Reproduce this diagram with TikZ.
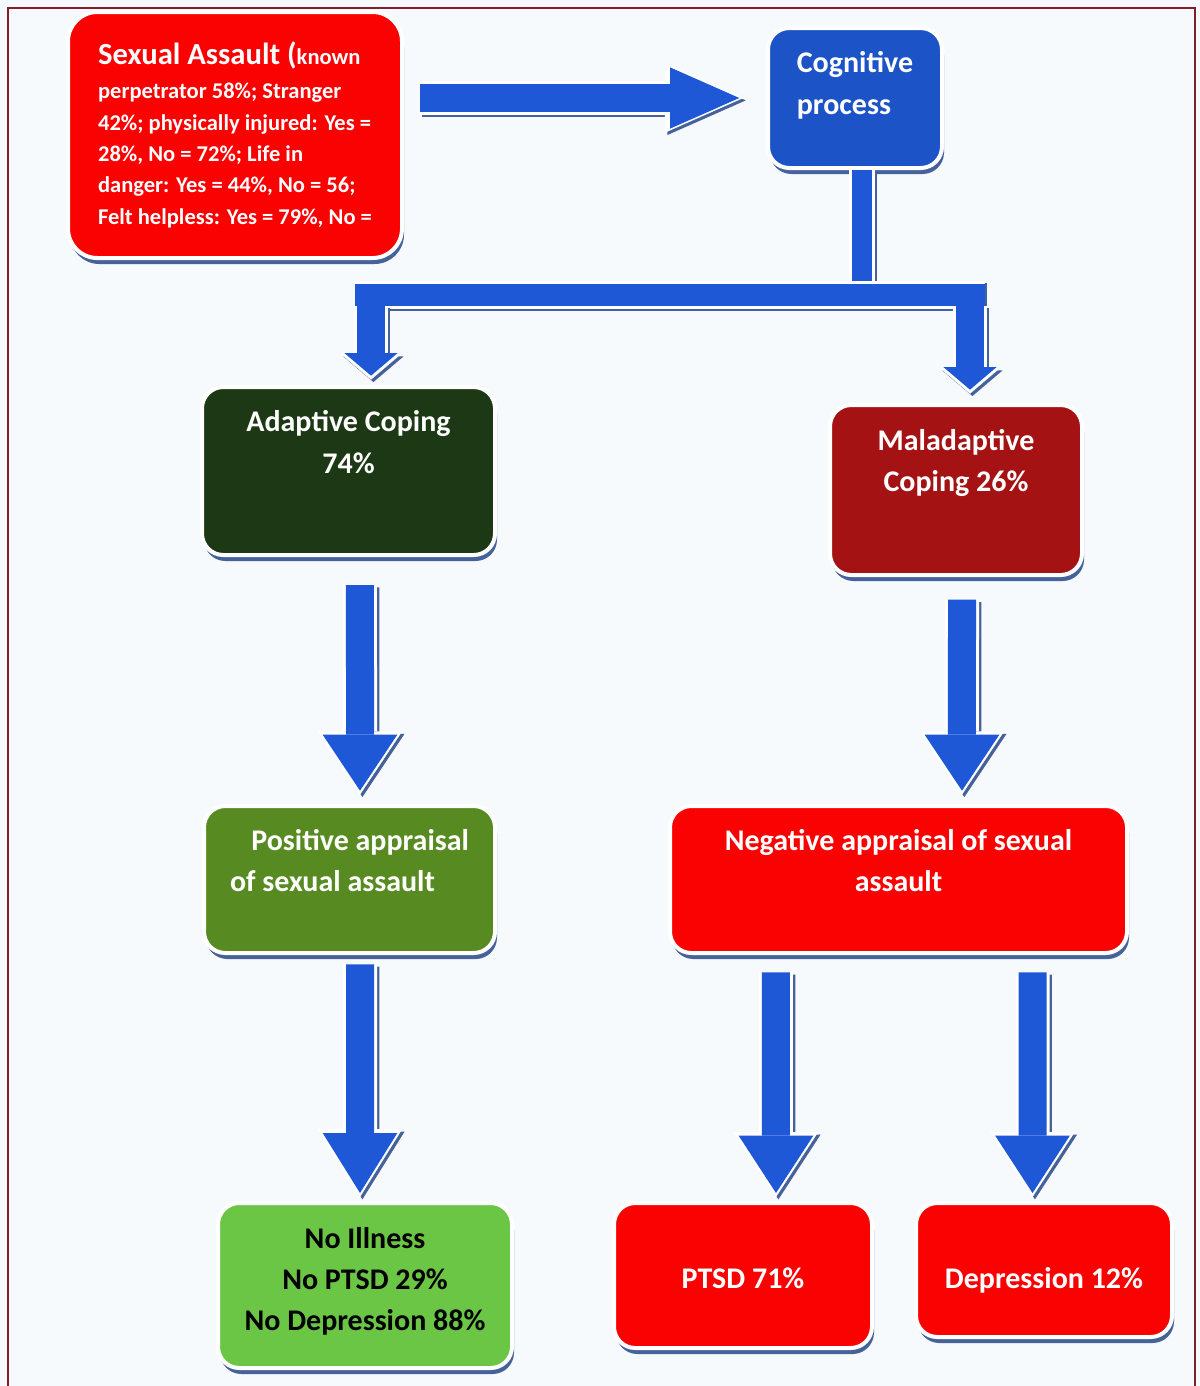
\documentclass[tikz,border=0pt]{standalone}
\usepackage{fontspec}
\setmainfont{Carlito}
\usetikzlibrary{arrows.meta,shadows}

\definecolor{flowred}{RGB}{250,2,2}
\definecolor{flowblue}{RGB}{30,88,214}
\definecolor{cogblue}{RGB}{28,84,200}
\definecolor{darkleaf}{RGB}{28,56,20}
\definecolor{darkred}{RGB}{165,18,20}
\definecolor{olive}{RGB}{88,138,34}
\definecolor{lightleaf}{RGB}{108,198,70}
\definecolor{shade}{RGB}{70,98,155}
\definecolor{framered}{RGB}{130,30,42}
\definecolor{paper}{RGB}{247,250,253}

% extra depth under the last line, pushes the text up in its box
\newcommand{\lift}[1]{\rule[-#1]{0pt}{#1}}

% block arrow: tip, from, to, start gap, end gap
\newcommand{\flowarrow}[5]{%
  \draw[arrshade={#1},shorten <=#4,shorten >=#5-3pt] #2 -- #3;
  \draw[arrhalo={#1},shorten <=#4,shorten >=#5-3pt] #2 -- #3;
  \draw[arrbody={#1},shorten <=#4,shorten >=#5] #2 -- #3;
}
% block bar without tip: width, from, to
\newcommand{\flowbar}[3]{%
  \draw[draw=shade,line width=#1+4.5pt,transform canvas={xshift=1.8pt,yshift=-1.8pt}] #2 -- #3;
  \draw[draw=white,line width=#1+4.5pt] #2 -- #3;
  \draw[draw=flowblue,line width=#1] #2 -- #3;
}

\tikzset{every picture/.style={line width=0.75pt}}
\tikzset{
  flowbox/.style={rounded corners=16pt, draw=white, line width=3pt, inner sep=0pt, text=white,
    font=\bfseries\fontsize{22.5}{31}\selectfont,
    general shadow={fill=shade, shadow xshift=1.5pt, shadow yshift=-4.5pt}},
  arrbody/.style={draw=flowblue, line width=21pt, -{Triangle[#1,line width=0pt]}},
  arrhalo/.style={draw=white, line width=25.5pt, -{Triangle[#1,scale=1.13,line width=0pt]}},
  arrshade/.style={draw=shade, line width=25.5pt, -{Triangle[#1,scale=1.13,line width=0pt]},
    transform canvas={xshift=1.8pt,yshift=-1.8pt}},
}

\begin{document}
\begin{tikzpicture}[x=0.75pt,y=0.75pt,yscale=-1,xscale=1]
\useasboundingbox (0,0) rectangle (1200,1386);
\fill[paper] (0,0) rectangle (1200,1386);

%Frame
\draw[framered, line width=1.5pt] (8,1395) -- (8,8) -- (1195,8) -- (1195,1395);

%Shape: Rounded Rect [sexual assault]
\node[flowbox, fill=flowred, rounded corners=22pt, align=left, font=\bfseries\fontsize{16.9}{23.5}\selectfont,
  minimum width=250.5pt, minimum height=184.5pt] (assault) at (235,135)
  {{\fontsize{23}{26}\selectfont Sexual Assault (}known\\[2pt]
   perpetrator 58\%; Stranger\\
   42\%; physically injured: Yes =\\
   28\%, No = 72\%; Life in\\
   danger: Yes = 44\%, No = 56;\\
   Felt helpless: Yes = 79\%, No =};
%Shape: Rounded Rect [cognitive]
\node[flowbox, fill=cogblue, align=left, minimum width=130.5pt, minimum height=105pt] (cog) at (855,98)
  {Cognitive\\process\lift{22.5pt}};
%Shape: Rounded Rect [adaptive]
\node[flowbox, fill=darkleaf, align=center, minimum width=219.75pt, minimum height=126pt] (adapt) at (348.5,471)
  {Adaptive Coping\\74\%\lift{43.5pt}};
%Shape: Rounded Rect [maladaptive]
\node[flowbox, fill=darkred, align=center, minimum width=189pt, minimum height=127.5pt] (malad) at (956,490)
  {Maladaptive\\Coping 26\%\lift{44pt}};
%Shape: Rounded Rect [positive]
\node[flowbox, fill=olive, align=left, minimum width=218.25pt, minimum height=110.25pt] (pos) at (349.5,879.5)
  {\hspace*{16pt}Positive appraisal\\of sexual assault\lift{28.5pt}};
%Shape: Rounded Rect [negative]
\node[flowbox, fill=flowred, align=center, minimum width=342.75pt, minimum height=110.25pt] (neg) at (898.5,879.5)
  {Negative appraisal of sexual\\assault\lift{28.5pt}};
%Shape: Rounded Rect [no illness]
\node[flowbox, fill=lightleaf, text=black, align=center, minimum width=220.5pt, minimum height=123.75pt] (ill) at (365,1285.5)
  {No Illness\\No PTSD 29\%\\No Depression 88\%\lift{10pt}};
%Shape: Rounded Rect [ptsd]
\node[flowbox, fill=flowred, minimum width=193.5pt, minimum height=108.75pt] (ptsd) at (743,1275.5)
  {\rule{0pt}{19pt}PTSD 71\%};
%Shape: Rounded Rect [depression]
\node[flowbox, fill=flowred, minimum width=192pt, minimum height=100.5pt] (dep) at (1044,1270)
  {\rule{0pt}{32pt}Depression 12\%};

%Block Arrow
\flowarrow{width=46pt,length=52pt}{(assault.east |- cog.west)}{(cog.west)}{12pt}{20pt}

%Straight Lines [split]
\coordinate (split) at (862,295);
\coordinate (barL) at (355,295);
\coordinate (barR) at (985,295);
\coordinate (dropL) at (371,306);
\coordinate (dropR) at (970,306);
\flowbar{15pt}{(split |- cog.south)}{(split)}
\flowbar{16.5pt}{(barL)}{(barR)}
\flowarrow{width=40pt,length=17pt}{(dropL)}{(dropL |- adapt.north)}{0pt}{7pt}
\flowarrow{width=40pt,length=17pt}{(dropR)}{(dropR |- malad.north)}{0pt}{10pt}

%Block Arrows
\flowarrow{width=56pt,length=42pt}{([xshift=8.6pt]adapt.south)}{([xshift=7.9pt]pos.north)}{21pt}{10pt}
\flowarrow{width=56pt,length=42pt}{([xshift=4.5pt]malad.south)}{([xshift=47.6pt]neg.north)}{17pt}{10pt}
\flowarrow{width=56pt,length=45pt}{([xshift=7.9pt]pos.south)}{([xshift=-3.75pt]ill.north)}{7pt}{6pt}
\flowarrow{width=56pt,length=43pt}{([xshift=-91.9pt]neg.south)}{([xshift=24.75pt]ptsd.north)}{13pt}{6pt}
\flowarrow{width=56pt,length=43pt}{([xshift=100.5pt]neg.south)}{([xshift=-8.6pt]dep.north)}{13pt}{6pt}

\end{tikzpicture}
\end{document}
